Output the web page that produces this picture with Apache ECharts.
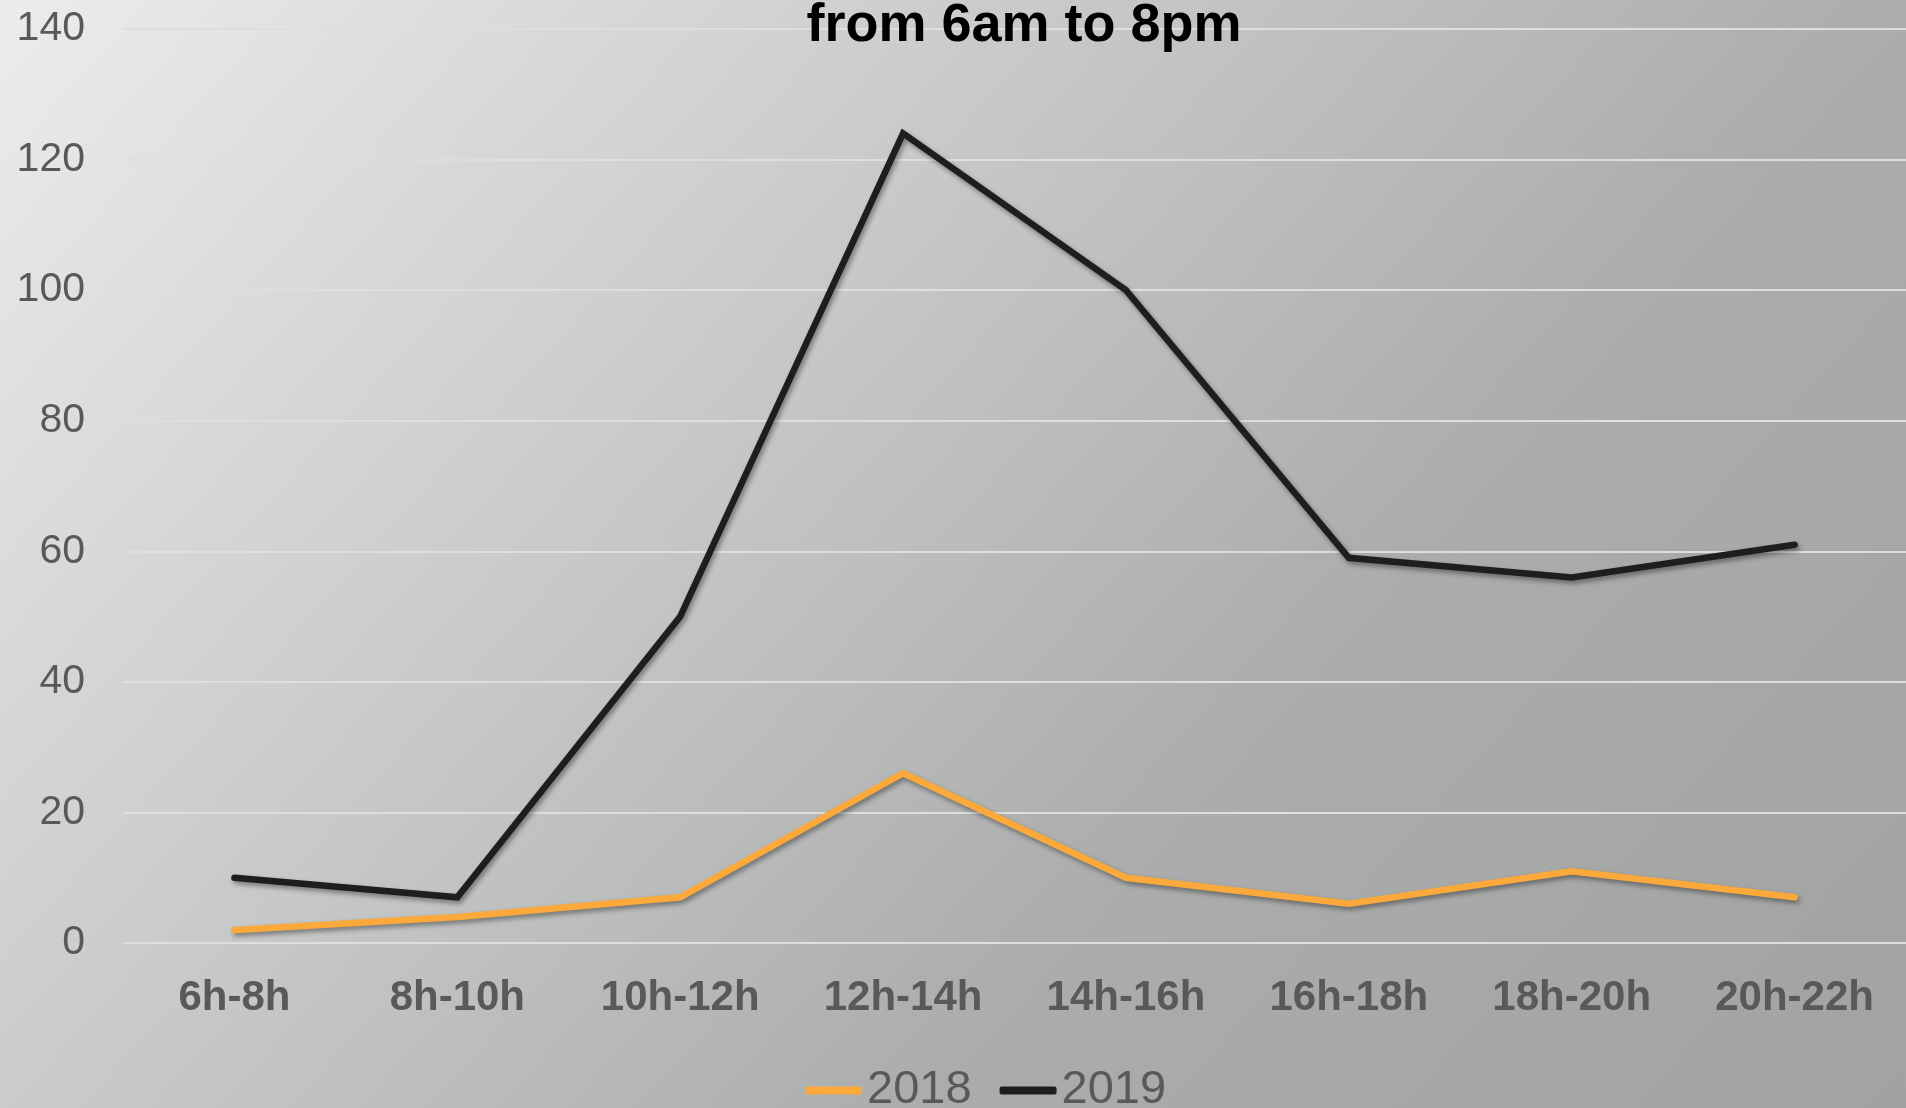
<!DOCTYPE html>
<html>
<head>
<meta charset="utf-8">
<style>
  html, body { margin: 0; padding: 0; }
  #chart { width: 1906px; height: 1108px; }
</style>
<script src="https://cdn.jsdelivr.net/npm/echarts@6/dist/echarts.min.js"></script>
</head>
<body>
<div id="chart"></div>
<script>
// Time slots of the day
const categories = ['6h-8h', '8h-10h', '10h-12h', '12h-14h', '14h-16h', '16h-18h', '18h-20h', '20h-22h'];
// Counts per time slot
const values2018 = [2, 4, 7, 26, 10, 6, 11, 7];
const values2019 = [10, 7, 50, 124, 100, 59, 56, 61];
// Value axis range
const yMin = 0;
const yMax = 140;
const yStep = 20;

const FONT = '"Liberation Sans", Arial, Helvetica, sans-serif';
const LABEL_GREY = '#595959';

const chart = echarts.init(document.getElementById('chart'), null, { renderer: 'canvas' });

const lineShadow = {
  shadowColor: 'rgba(0,0,0,0.4)',
  shadowBlur: 5,
  shadowOffsetX: 2,
  shadowOffsetY: 3
};

chart.setOption({
  animation: false,
  backgroundColor: new echarts.graphic.LinearGradient(0, 0, 1906, 1715, [
    { offset: 0, color: '#ececec' },
    { offset: 0.289, color: '#cacbcb' },
    { offset: 0.553, color: '#abadad' },
    { offset: 0.842, color: '#a1a3a3' },
    { offset: 1, color: '#9e9f9f' }
  ], true),
  title: {
    text: 'from 6am to 8pm',
    left: 1019,
    top: -6,
    textAlign: 'center',
    textStyle: {
      fontFamily: FONT,
      fontSize: 54,
      fontWeight: 'bold',
      color: '#000000'
    }
  },
  legend: {
    left: 800,
    top: 1062,
    icon: 'roundRect',
    itemWidth: 57,
    itemHeight: 8,
    itemGap: 28,
    textStyle: {
      fontFamily: FONT,
      fontSize: 47,
      color: LABEL_GREY
    },
    data: ['2018', '2019']
  },
  grid: {
    left: 123,
    top: 29,
    width: 1785,
    height: 914,
    containLabel: false
  },
  xAxis: {
    type: 'category',
    data: categories,
    boundaryGap: true,
    axisLine: { show: false },
    axisTick: { show: false },
    axisLabel: {
      margin: 34,
      fontFamily: FONT,
      fontSize: 42,
      fontWeight: 'bold',
      color: LABEL_GREY
    }
  },
  yAxis: {
    type: 'value',
    min: yMin,
    max: yMax,
    interval: yStep,
    axisLine: { show: false },
    axisTick: { show: false },
    axisLabel: {
      margin: 38,
      fontFamily: FONT,
      fontSize: 41,
      color: LABEL_GREY
    },
    splitLine: {
      lineStyle: { color: '#dedede', width: 2 }
    }
  },
  series: [
    {
      name: '2018',
      type: 'line',
      data: values2018,
      symbol: 'none',
      itemStyle: { color: '#fca93c' },
      lineStyle: Object.assign({ color: '#fca93c', width: 6.5, cap: 'round', join: 'miter' }, lineShadow)
    },
    {
      name: '2019',
      type: 'line',
      data: values2019,
      symbol: 'none',
      itemStyle: { color: '#1e1e1e' },
      lineStyle: Object.assign({ color: '#1e1e1e', width: 6.5, cap: 'round', join: 'miter' }, lineShadow)
    }
  ]
});
</script>
</body>
</html>
